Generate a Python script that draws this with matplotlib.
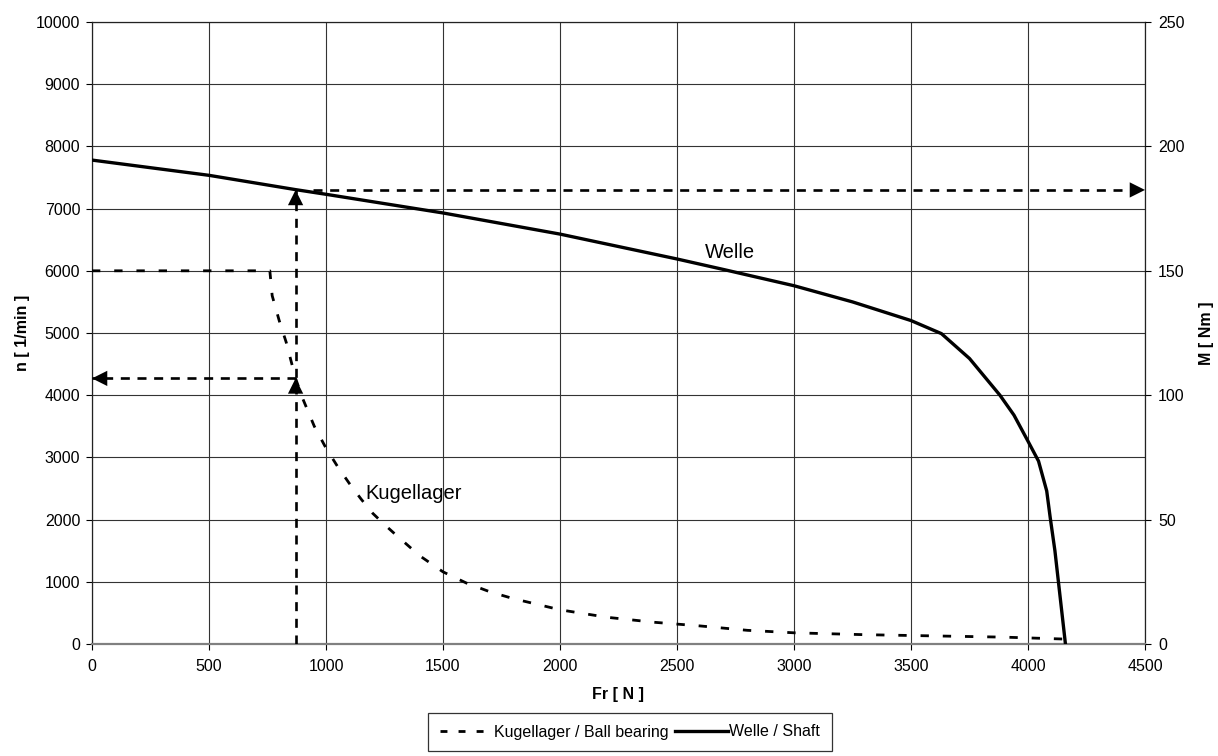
import matplotlib
matplotlib.use("Agg")
import matplotlib.pyplot as plt
from matplotlib.lines import Line2D

plt.rcParams['font.family'] = ['Liberation Sans', 'DejaVu Sans']
plt.rcParams['lines.scale_dashes'] = False

# ---- data ----
welle_x = [0, 500, 870, 1000, 1500, 2000, 2500, 2700, 3000, 3250, 3500, 3630, 3750,
           3880, 3940, 4000, 4045, 4080, 4095, 4115, 4130, 4160]
welle_n = [7780, 7535, 7305, 7230, 6930, 6590, 6190, 6020, 5760, 5500, 5200, 4990, 4590,
           4000, 3680, 3260, 2940, 2460, 2030, 1500, 1000, 0]

kugel_x = [0, 760, 770, 800, 830, 870, 900, 950, 1000, 1050, 1100, 1150, 1200, 1250,
           1300, 1400, 1500, 1600, 1700, 1800, 2000, 2200, 2400, 2600, 2800, 3000,
           3300, 3600, 3900, 4150]
kugel_n = [6000, 6000, 5600, 5200, 4850, 4270, 3950, 3500, 3150, 2850, 2580, 2330, 2100,
           1920, 1750, 1420, 1160, 980, 840, 730, 550, 430, 350, 290, 220, 180,
           150, 130, 110, 80]

x_ticks = [0, 500, 1000, 1500, 2000, 2500, 3000, 3500, 4000, 4500]
n_ticks = [0, 1000, 2000, 3000, 4000, 5000, 6000, 7000, 8000, 9000, 10000]
m_ticks = [0, 50, 100, 150, 200, 250]

# reading example (arrows)
force_read = 870
n_read = 4270
m_read_n = 7300   # torque level expressed on speed axis scale
m_arrow_start = 946

# ---- figure ----
fig = plt.figure(figsize=(12.18, 7.56), dpi=100)
ax = fig.add_axes([92/1218, 1-644/756, (1145-92)/1218, (644-22)/756])

ax.set_xlim(0, 4500)
ax.set_ylim(0, 10000)
ax.set_xticks(x_ticks)
ax.set_yticks(n_ticks)
ax.grid(True, color='#333333', lw=0.8)
ax.set_axisbelow(True)

fs = 11.5
ax.tick_params(axis='both', labelsize=fs, length=4.5, width=0.8, direction='out', pad=4)
ax.tick_params(axis='x', pad=6)

for s in ['left', 'top', 'right']:
    ax.spines[s].set_color('#222222')
    ax.spines[s].set_linewidth(0.9)
ax.spines['bottom'].set_color('#808080')
ax.spines['bottom'].set_linewidth(1.6)

# curves
ln_k, = ax.plot(kugel_x, kugel_n, color='black', lw=2.0, dashes=(6, 10),
                solid_capstyle='butt', dash_capstyle='butt', zorder=3)
ln_w, = ax.plot(welle_x, welle_n, color='black', lw=2.4, zorder=3)

# reading arrows (dashed lines)
adash = (6.5, 5.5)
ax.plot([force_read, force_read], [0, m_read_n], color='black', lw=1.9, dashes=adash, zorder=4)
ax.plot([force_read, 0], [n_read, n_read], color='black', lw=1.9, dashes=adash, zorder=4)
ax.plot([m_arrow_start, 4500], [m_read_n, m_read_n], color='black', lw=1.9, dashes=adash, zorder=4)

head = dict(arrowstyle='-|>,head_length=1.1,head_width=0.55', mutation_scale=10,
            color='black', lw=0, shrinkA=0, shrinkB=0)
def arrowhead(tip, tail):
    ax.annotate('', xy=tip, xytext=tail, arrowprops=head, annotation_clip=False, zorder=5)

arrowhead((force_read, m_read_n), (force_read, m_read_n - 400))
arrowhead((force_read, n_read), (force_read, n_read - 400))
arrowhead((0, n_read), (100, n_read))
arrowhead((4500, m_read_n), (4400, m_read_n))

# labels in plot
ax.text(2620, 6300, 'Welle', fontsize=14.5, va='center', ha='left')
ax.text(1170, 2420, 'Kugellager', fontsize=14.5, va='center', ha='left')

ax.set_xlabel('Fr [ N ]', fontsize=fs, fontweight='bold', labelpad=10)
ax.set_ylabel('n [ 1/min ]', fontsize=fs, fontweight='bold', labelpad=4)

ax2 = ax.twinx()
ax2.set_ylim(0, 250)
ax2.set_yticks(m_ticks)
ax2.tick_params(axis='y', labelsize=fs, length=4.5, width=0.8, direction='out', pad=5)
for s in ax2.spines.values():
    s.set_visible(False)
ax2.set_ylabel('M [ Nm ]', fontsize=fs, fontweight='bold', labelpad=10)

# legend
h_k = Line2D([0], [0], color='black', lw=2.0, dashes=(5, 8))
h_w = Line2D([0], [0], color='black', lw=2.4)
leg = fig.legend([h_k, h_w], ['Kugellager / Ball bearing', 'Welle / Shaft'],
                 loc='center', bbox_to_anchor=(630/1218, 1-732/756), ncol=2,
                 fontsize=fs, frameon=True, fancybox=False, handlelength=3.3,
                 handletextpad=0.1, columnspacing=0.4, borderpad=0.75,
                 borderaxespad=0)
leg.get_frame().set_edgecolor('black')
leg.get_frame().set_linewidth(0.9)

fig.savefig('out.png', dpi=100)
